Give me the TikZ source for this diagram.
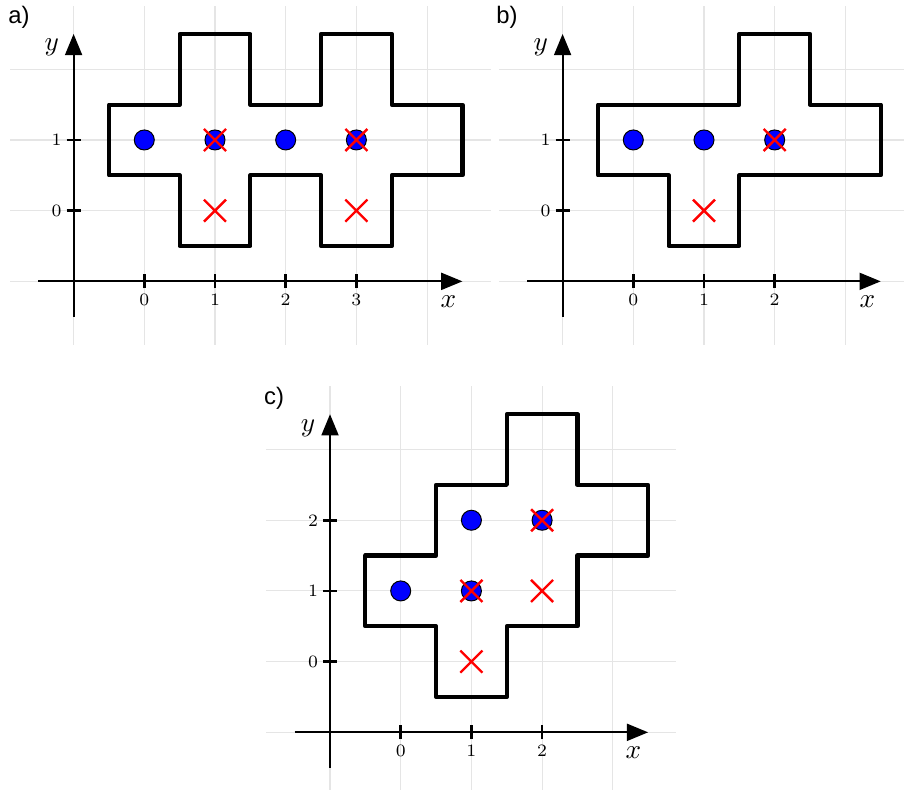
\documentclass[tikz,border=0pt]{standalone}
\usepackage{fontspec}
\newfontfamily\lblfont{Liberation Sans}
\usetikzlibrary{arrows.meta}
\begin{document}
\begin{tikzpicture}[x=1cm,y=1cm,
  gridline/.style={draw=black!10, line width=0.45pt},
  axisline/.style={line width=0.8pt, -{Triangle[length=0.3cm,width=0.24cm]}},
  tickmark/.style={line width=1.1pt},
  ticklabel/.style={font=\scriptsize, inner sep=0pt},
  axislabel/.style={font=\fontsize{11}{13}\selectfont, inner sep=0pt},
  region/.style={line width=1.7pt, line join=round},
  site/.style={circle, fill=blue, draw=black, line width=0.4pt, minimum size=0.283cm, inner sep=0pt},
  crossmark/.style={draw=red, line width=0.95pt},
  xcross/.pic={\draw[crossmark] (-0.156,-0.156) -- (0.156,0.156) (-0.156,0.156) -- (0.156,-0.156);},
  panellabel/.style={font=\lblfont\fontsize{9.6}{11}\selectfont, inner sep=0pt}
]
\useasboundingbox (0,0) rectangle (12.787,11.174);

% ---------------- panel a ----------------
\begin{scope}[shift={(2.041,8.194)}]
  \foreach \gx in {-1,...,4} \draw[gridline] (\gx,-1.9) -- (\gx,2.9);
  \foreach \gy in {-1,...,2} \draw[gridline] (-1.9,\gy) -- (4.9,\gy);
  \draw[region] (-0.5,0.5) -- (-0.5,1.5) -- (0.5,1.5) -- (0.5,2.5) -- (1.5,2.5) -- (1.5,1.5)
    -- (2.5,1.5) -- (2.5,2.5) -- (3.5,2.5) -- (3.5,1.5) -- (4.5,1.5) -- (4.5,0.5)
    -- (3.5,0.5) -- (3.5,-0.5) -- (2.5,-0.5) -- (2.5,0.5) -- (1.5,0.5) -- (1.5,-0.5)
    -- (0.5,-0.5) -- (0.5,0.5) -- cycle;
  \coordinate (a-x0) at (-1.5,-1); \coordinate (a-x1) at (4.5,-1);
  \coordinate (a-y0) at (-1,-1.5); \coordinate (a-y1) at (-1,2.5);
  \draw[axisline] (a-x0) -- (a-x1);
  \draw[axisline] (a-y0) -- (a-y1);
  \foreach \t in {0,...,3} {\draw[tickmark] (\t,-1.1) -- (\t,-0.9); \node[ticklabel] (a-xt\t) at (\t,-1.26) {\t};}
  \foreach \t in {0,1} {\draw[tickmark] (-1.1,\t) -- (-0.9,\t); \node[ticklabel] (a-yt\t) at (-1.24,\t) {\t};}
  \node[axislabel] (a-xl) at (4.3,-1.29) {$x$};
  \node[axislabel] (a-yl) at (-1.31,2.31) {$y$};
  \foreach \px/\py [count=\k] in {0/1,1/1,2/1,3/1} \node[site] (a-s\k) at (\px,\py) {};
  \foreach \px/\py in {1/1,1/0,3/1,3/0} \pic at (\px,\py) {xcross};
\end{scope}

% ---------------- panel b ----------------
\begin{scope}[shift={(8.958,8.194)}]
  \foreach \gx in {-1,...,3} \draw[gridline] (\gx,-1.9) -- (\gx,2.9);
  \foreach \gy in {-1,...,2} \draw[gridline] (-1.9,\gy) -- (3.9,\gy);
  \draw[region] (-0.5,0.5) -- (-0.5,1.5) -- (1.5,1.5) -- (1.5,2.5) -- (2.5,2.5) -- (2.5,1.5)
    -- (3.5,1.5) -- (3.5,0.5) -- (1.5,0.5) -- (1.5,-0.5) -- (0.5,-0.5) -- (0.5,0.5) -- cycle;
  \coordinate (b-x0) at (-1.5,-1); \coordinate (b-x1) at (3.5,-1);
  \coordinate (b-y0) at (-1,-1.5); \coordinate (b-y1) at (-1,2.5);
  \draw[axisline] (b-x0) -- (b-x1);
  \draw[axisline] (b-y0) -- (b-y1);
  \foreach \t in {0,...,2} {\draw[tickmark] (\t,-1.1) -- (\t,-0.9); \node[ticklabel] (b-xt\t) at (\t,-1.26) {\t};}
  \foreach \t in {0,1} {\draw[tickmark] (-1.1,\t) -- (-0.9,\t); \node[ticklabel] (b-yt\t) at (-1.24,\t) {\t};}
  \node[axislabel] (b-xl) at (3.31,-1.29) {$x$};
  \node[axislabel] (b-yl) at (-1.31,2.31) {$y$};
  \foreach \px/\py [count=\k] in {0/1,1/1,2/1} \node[site] (b-s\k) at (\px,\py) {};
  \foreach \px/\py in {2/1,1/0} \pic at (\px,\py) {xcross};
\end{scope}

% ---------------- panel c ----------------
\begin{scope}[shift={(5.668,1.815)}]
  \foreach \gx in {-1,...,3} \draw[gridline] (\gx,-1.9) -- (\gx,3.9);
  \foreach \gy in {-1,...,3} \draw[gridline] (-1.9,\gy) -- (3.9,\gy);
  \draw[region] (-0.5,0.5) -- (-0.5,1.5) -- (0.5,1.5) -- (0.5,2.5) -- (1.5,2.5) -- (1.5,3.5)
    -- (2.5,3.5) -- (2.5,2.5) -- (3.5,2.5) -- (3.5,1.5) -- (2.5,1.5) -- (2.5,0.5)
    -- (1.5,0.5) -- (1.5,-0.5) -- (0.5,-0.5) -- (0.5,0.5) -- cycle;
  \coordinate (c-x0) at (-1.5,-1); \coordinate (c-x1) at (3.5,-1);
  \coordinate (c-y0) at (-1,-1.5); \coordinate (c-y1) at (-1,3.5);
  \draw[axisline] (c-x0) -- (c-x1);
  \draw[axisline] (c-y0) -- (c-y1);
  \foreach \t in {0,...,2} {\draw[tickmark] (\t,-1.1) -- (\t,-0.9); \node[ticklabel] (c-xt\t) at (\t,-1.26) {\t};}
  \foreach \t in {0,...,2} {\draw[tickmark] (-1.1,\t) -- (-0.9,\t); \node[ticklabel] (c-yt\t) at (-1.24,\t) {\t};}
  \node[axislabel] (c-xl) at (3.29,-1.29) {$x$};
  \node[axislabel] (c-yl) at (-1.31,3.3) {$y$};
  \foreach \px/\py [count=\k] in {0/1,1/1,1/2,2/2} \node[site] (c-s\k) at (\px,\py) {};
  \foreach \px/\py in {1/1,2/2,2/1,1/0} \pic at (\px,\py) {xcross};
\end{scope}

% panel labels
\node[panellabel] (la) at (0.269,10.934) {a)};
\node[panellabel] (lb) at (7.171,10.934) {b)};
\node[panellabel] (lc) at (3.876,5.545) {c)};
\end{tikzpicture}
\end{document}
